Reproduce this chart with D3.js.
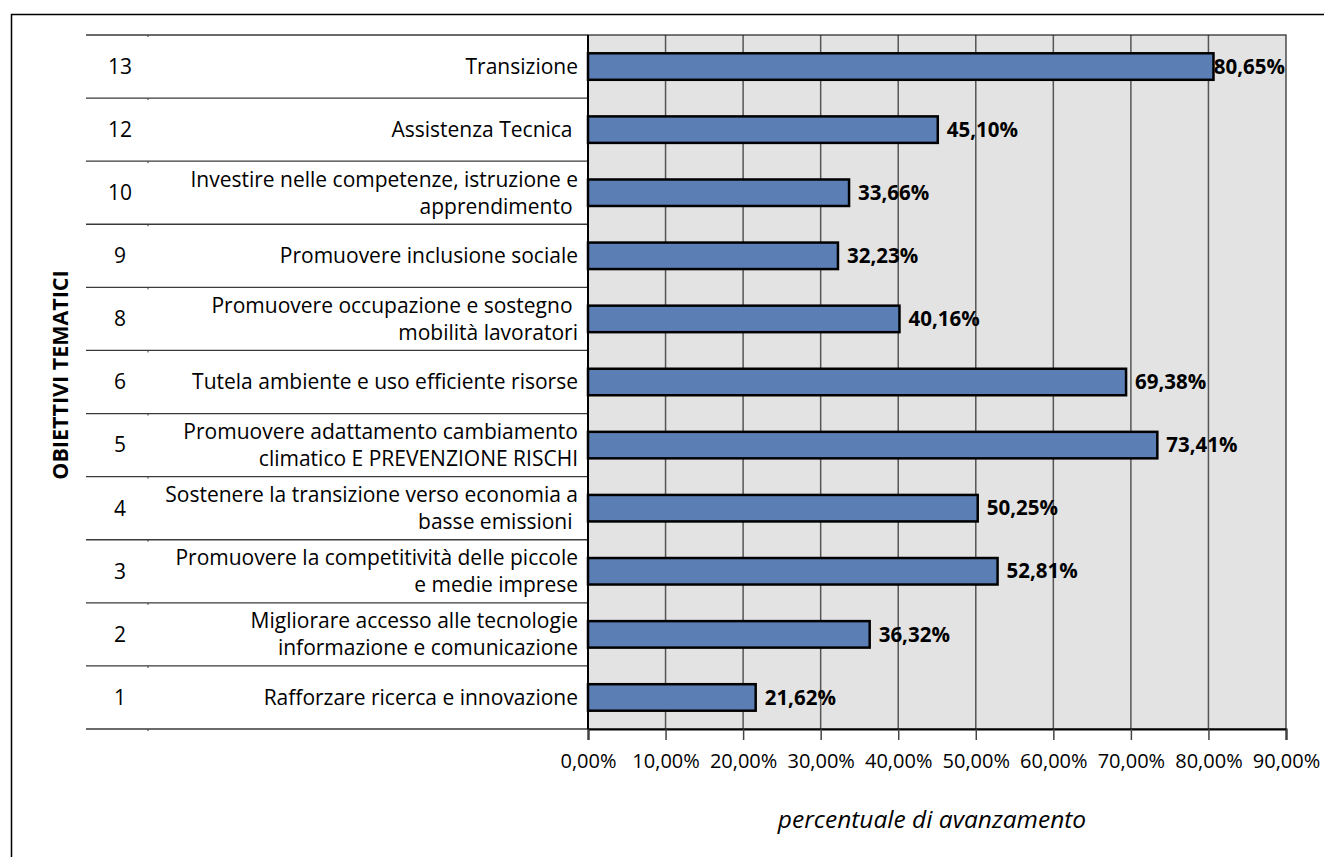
<!DOCTYPE html>
<html>
<head>
<meta charset="utf-8">
<script src="https://cdn.jsdelivr.net/npm/d3@7/dist/d3.min.js"></script>
<style>
  html, body { margin: 0; padding: 0; background: #fff; }
  svg { display: block; }
  text { font-family: "Open Sans", sans-serif; fill: #000; white-space: pre; }
</style>
</head>
<body>
<svg id="chart" width="1324" height="857"></svg>
<script>
// ---- Data (bottom to top as in the source chart) ----
const codes = ["1", "2", "3", "4", "5", "6", "8", "9", "10", "12", "13"];
const labels = [
  ["Rafforzare ricerca e innovazione"],
  ["Migliorare accesso alle tecnologie", "informazione e comunicazione"],
  ["Promuovere la competitività delle piccole", "e medie imprese"],
  ["Sostenere la transizione verso economia a", "basse emissioni "],
  ["Promuovere adattamento cambiamento", "climatico E PREVENZIONE RISCHI"],
  ["Tutela ambiente e uso efficiente risorse"],
  ["Promuovere occupazione e sostegno ", "mobilità lavoratori"],
  ["Promuovere inclusione sociale"],
  ["Investire nelle competenze, istruzione e", "apprendimento "],
  ["Assistenza Tecnica "],
  ["Transizione"]
];
const values = [21.62, 36.32, 52.81, 50.25, 73.41, 69.38, 40.16, 32.23, 33.66, 45.10, 80.65];
const xTicks = [0, 10, 20, 30, 40, 50, 60, 70, 80, 90];
const xTitle = "percentuale di avanzamento";
const yTitle = "OBIETTIVI TEMATICI";

// ---- Layout ----
const svg = d3.select("#chart");
const plot = { left: 588, right: 1286, top: 35, bottom: 729 };
const labelLeft = 86, codeDivider = 148, codeX = 120;

const it = d3.formatLocale({ decimal: ",", thousands: ".", grouping: [3], currency: ["€", ""] });
const fmt = v => it.format(".2f")(v) + "%";

const x = d3.scaleLinear().domain([0, 90]).range([plot.left, plot.right]);
const y = d3.scaleBand().domain(codes.slice().reverse()).range([plot.top, plot.bottom]).padding(0);

// outer frame (right/bottom edges fall outside the picture)
svg.append("rect").attr("x", 11.5).attr("y", 14.5).attr("width", 1400).attr("height", 900)
  .attr("fill", "none").attr("stroke", "#000").attr("stroke-width", 1.5);

// plot background
svg.append("rect").attr("x", plot.left).attr("y", plot.top)
  .attr("width", plot.right - plot.left).attr("height", plot.bottom - plot.top)
  .attr("fill", "#e3e3e3");

// vertical gridlines
svg.append("g").selectAll("line").data(xTicks.filter(d => d > 0 && d < 90)).join("line")
  .attr("x1", d => x(d)).attr("x2", d => x(d))
  .attr("y1", plot.top).attr("y2", plot.bottom)
  .attr("stroke", "#555").attr("stroke-width", 1.5);

// plot border
svg.append("rect").attr("x", plot.left).attr("y", plot.top)
  .attr("width", plot.right - plot.left).attr("height", plot.bottom - plot.top)
  .attr("fill", "none").attr("stroke", "#222").attr("stroke-width", 1.2);

// category row separators in label area
const bounds = codes.map(c => y(c)).concat([plot.bottom]);
svg.append("g").selectAll("line").data(bounds).join("line")
  .attr("x1", labelLeft).attr("x2", plot.left)
  .attr("y1", d => d).attr("y2", d => d)
  .attr("stroke", "#3a3a3a").attr("stroke-width", 1.3);
svg.append("g").selectAll("line").data(bounds).join("line")
  .attr("x1", codeDivider).attr("x2", codeDivider)
  .attr("y1", d => d).attr("y2", d => d + 2)
  .attr("stroke", "#3a3a3a").attr("stroke-width", 1);

// x axis
const xAxis = d3.axisBottom(x).tickValues(xTicks).tickFormat(fmt).tickSize(11).tickPadding(14);
const gx = svg.append("g").attr("transform", `translate(0,${plot.bottom})`).call(xAxis);
gx.select(".domain").attr("stroke", "#000").attr("stroke-width", 2);
gx.selectAll(".tick line").attr("stroke", "#444").attr("stroke-width", 1.5);
gx.selectAll(".tick text").attr("font-family", "Open Sans").attr("font-size", 20).attr("fill", "#000");

// y axis line
svg.append("line").attr("x1", plot.left).attr("x2", plot.left)
  .attr("y1", plot.top).attr("y2", plot.bottom)
  .attr("stroke", "#000").attr("stroke-width", 2);

// bars
const barH = y.bandwidth() * 0.42;
const rows = codes.map((c, i) => ({ code: c, label: labels[i], value: values[i] }));
svg.append("g").selectAll("rect").data(rows).join("rect")
  .attr("x", plot.left)
  .attr("y", d => y(d.code) + (y.bandwidth() - barH) / 2)
  .attr("width", d => x(d.value) - plot.left)
  .attr("height", barH)
  .attr("fill", "#5b7fb5").attr("stroke", "#000").attr("stroke-width", 2.5);

// value labels
const vl = svg.append("g").selectAll("text").data(rows).join("text")
  .attr("y", d => y(d.code) + y.bandwidth() / 2)
  .attr("dy", "0.35em")
  .attr("font-size", 20.5).attr("font-weight", "bold")
  .text(d => fmt(d.value));
vl.each(function(d) {
  const w = this.getComputedTextLength();
  const px = Math.min(x(d.value) + 9, plot.right - w - 1);
  d3.select(this).attr("x", px);
});

// category codes
svg.append("g").selectAll("text").data(rows).join("text")
  .attr("x", codeX).attr("y", d => y(d.code) + y.bandwidth() / 2)
  .attr("dy", "0.35em").attr("text-anchor", "middle")
  .attr("font-size", 21).text(d => d.code);

// category names
const lineH = 27;
const names = svg.append("g").selectAll("text").data(rows).join("text")
  .attr("text-anchor", "end").attr("font-size", 21);
names.each(function(d) {
  const t = d3.select(this);
  const cy = y(d.code) + y.bandwidth() / 2;
  const n = d.label.length;
  d.label.forEach((line, i) => {
    t.append("tspan").attr("x", plot.left - 10)
      .attr("y", cy + (i - (n - 1) / 2) * lineH)
      .attr("dy", "0.35em").text(line);
  });
});

// axis titles
svg.append("text").attr("x", 932).attr("y", 828)
  .attr("text-anchor", "middle").attr("font-size", 24.5).attr("font-style", "italic")
  .text(xTitle);
svg.append("text").attr("transform", "translate(68,375) rotate(-90)")
  .attr("text-anchor", "middle").attr("font-size", 21.5).attr("font-weight", "bold")
  .text(yTitle);
</script>
</body>
</html>
